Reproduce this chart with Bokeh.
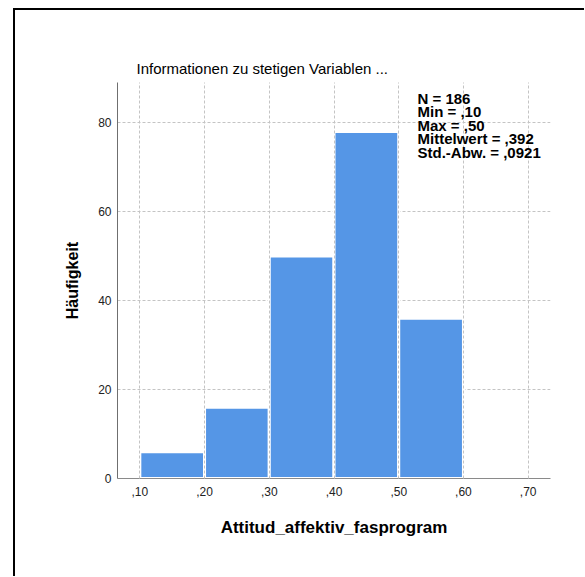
from bokeh.plotting import figure
from bokeh.models import FixedTicker, Label, Range1d
from bokeh.embed import file_html
from bokeh.resources import INLINE

# ---- data ----
bin_left = [0.10, 0.20, 0.30, 0.40, 0.50]
bin_right = [0.20, 0.30, 0.40, 0.50, 0.60]
counts = [6, 16, 50, 78, 36]
x_ticks = [0.1, 0.2, 0.3, 0.4, 0.5, 0.6, 0.7]
x_tick_labels = [",10", ",20", ",30", ",40", ",50", ",60", ",70"]
y_ticks = [0, 20, 40, 60, 80]
stats_lines = ["N = 186", "Min = ,10", "Max = ,50", "Mittelwert = ,392", "Std.-Abw. = ,0921"]
title_text = "Informationen zu stetigen Variablen ..."
x_label = "Attitud_affektiv_fasprogram"
y_label = "Häufigkeit"

FONT = "Liberation Sans"

p = figure(
    frame_width=433, frame_height=396,
    min_border_left=102, min_border_right=34, min_border_top=72, min_border_bottom=98,
    x_range=Range1d(0.0655, 0.7345), y_range=Range1d(0, 89),
    output_backend="svg", toolbar_location=None, title=title_text,
)
p.styles = {"margin-left": "13px", "margin-top": "8px",
            "border-left": "2px solid black", "border-top": "2px solid black"}
p.outline_line_color = None
p.background_fill_color = "white"
p.border_fill_color = "white"

p.title.text_font = FONT
p.title.text_font_size = "15px"
p.title.text_font_style = "normal"
p.title.text_color = "#000000"
p.title.align = "left"
p.title.offset = 19
p.title.standoff = 12

p.quad(left=bin_left, right=bin_right, bottom=0, top=counts,
       fill_color="#5596E6", line_color="white", line_width=3)

# axes
for ax in (p.xaxis[0], p.yaxis[0]):
    ax.major_tick_out = 0
    ax.major_tick_in = 0
    ax.minor_tick_out = 0
    ax.minor_tick_in = 0
    ax.major_label_text_font = FONT
    ax.major_label_text_font_size = "12px"
    ax.major_label_text_color = "#222222"
    ax.axis_label_text_font = FONT
    ax.axis_label_text_font_style = "bold"
    ax.axis_label_text_color = "#000000"

p.xaxis.ticker = FixedTicker(ticks=x_ticks)
p.xaxis.major_label_overrides = dict(zip(x_ticks, x_tick_labels))
p.xaxis.axis_label = x_label
p.xaxis.axis_label_text_font_size = "17px"
p.xaxis.major_label_standoff = 8
p.xaxis.axis_label_standoff = 19
p.xaxis.axis_line_color = "#8a8a8a"

p.yaxis.ticker = FixedTicker(ticks=y_ticks)
p.yaxis.axis_label = y_label
p.yaxis.axis_label_text_font_size = "16px"
p.yaxis.major_label_standoff = 6
p.yaxis.axis_label_standoff = 14
p.yaxis.axis_line_color = "#6f6f6f"

p.xgrid.grid_line_color = "#c4c4c4"
p.xgrid.grid_line_dash = "3 2"
p.xgrid.level = "guide"
p.ygrid.grid_line_color = "#c4c4c4"
p.ygrid.grid_line_dash = "3 2"

stats = Label(x=0.529, y=87.4, text="\n".join(stats_lines),
              text_font=FONT, text_font_size="15px", text_font_style="bold",
              text_baseline="top", text_align="left", text_line_height=0.8,
              text_color="#000000")
p.add_layout(stats)

open("out.html", "w").write(file_html(p, INLINE))
